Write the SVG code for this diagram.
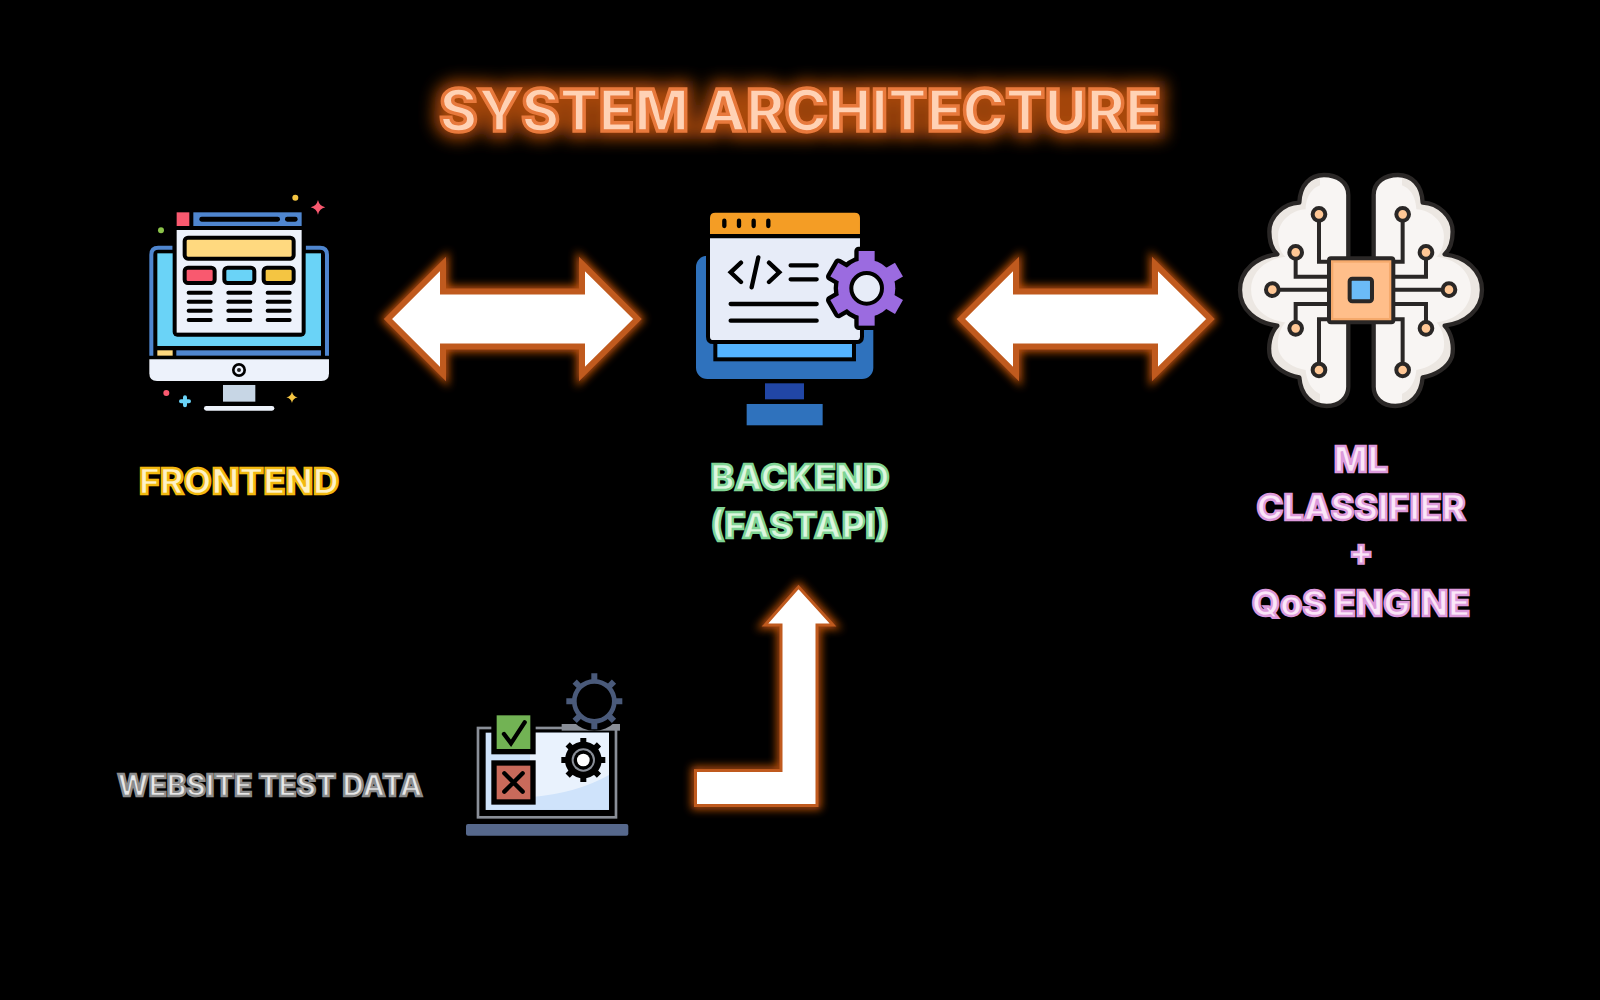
<svg xmlns="http://www.w3.org/2000/svg" width="1600" height="1000" viewBox="0 0 1600 1000">
<defs>
<filter id="glow" x="-20%" y="-60%" width="140%" height="220%"><feGaussianBlur stdDeviation="8"/></filter>
<filter id="aglow" x="-20%" y="-20%" width="140%" height="140%"><feGaussianBlur stdDeviation="4"/></filter>
<path id="dbl" d="M388,319 L443,264 L443,291.500 L582,291.500 L582,264 L637.500,319 L582,374 L582,346.500 L443,346.500 L443,374 Z"/>
<path id="lshape" d="M798.500,587 L833,625 L817,625 L817,805.500 L695.500,805.500 L695.500,770.500 L781,770.500 L781,625 L765,625 Z"/>
<path id="lobe" d="M385,105 C385,65 350,45 312,45 C270,45 240,75 238,128 C190,130 148,170 148,215 C148,245 156,268 172,283 C110,290 60,330 60,390 C60,450 110,490 172,497 C150,520 143,560 150,590 C163,625 200,645 238,652 C242,705 275,738 320,738 C360,738 385,712 385,680 Z"/>
<clipPath id="lobeclip"><use href="#lobe"/></clipPath>
<g id="lobeg">
<use href="#lobe" fill="#ECE7E2"/>
<g clip-path="url(#lobeclip)"><use href="#lobe" fill="#F8F5F3" transform="translate(38,30) scale(.92)"/><rect x="300" y="40" width="90" height="700" fill="#F8F5F3"/></g>
<use href="#lobe" fill="none" stroke="#2A2726" stroke-width="13" stroke-linejoin="round"/>
</g>
<g id="cog"><circle cx="560" cy="295" r="86"/><rect x="536" y="183" width="48" height="224"/><rect x="536" y="183" width="48" height="224" transform="rotate(60 560 295)"/><rect x="536" y="183" width="48" height="224" transform="rotate(120 560 295)"/></g>
</defs>
<style>
text{font-family:Inter,"Liberation Sans",sans-serif;font-weight:800;text-anchor:middle}
.title{font-size:58px;fill:#FFD2B5;stroke:#E8793C;stroke-width:3.500px}
.lab{font-size:36px;stroke-width:2.400px}
.fe{fill:#FFF3C6;stroke:#F2B90F}
.be{fill:#DDF7E0;stroke:#7FD494}
.ml{fill:#FBE6F8;stroke:#DD9ADC}
.wt{font-size:29.500px;fill:#E8E8E8;stroke:#8C8C8C;stroke-width:2.400px}
.arrow{fill:#fff;stroke:#C05A1E;stroke-linejoin:miter}
.g{fill:none;stroke:#E0600F;stroke-linejoin:miter;opacity:.85}
.k{stroke:#000;stroke-linecap:round;fill:none}
.bk{stroke:#2A2726;fill:none;stroke-width:12}
</style>
<rect width="1600" height="1000" fill="#000"/>

<g id="title">
<text class="title" x="800" y="131" filter="url(#glow)" style="stroke:#D25A10;stroke-width:15px;fill:#D25A10;opacity:.8">SYSTEM ARCHITECTURE</text>
<text class="title" x="800" y="131">SYSTEM ARCHITECTURE</text>
</g>

<g id="connectors">
<use href="#dbl" class="g" stroke-width="11" filter="url(#aglow)"/>
<use href="#dbl" class="arrow" stroke-width="6"/>
<g transform="translate(573,0)">
<use href="#dbl" class="g" stroke-width="11" filter="url(#aglow)"/>
<use href="#dbl" class="arrow" stroke-width="6"/>
</g>
<use href="#lshape" class="g" stroke-width="8" filter="url(#aglow)"/>
<use href="#lshape" class="arrow" stroke-width="3"/>
</g>

<g id="frontend">
<g transform="translate(130,180) scale(.3333)">
<path d="M128,203 H85 Q64,203 64,224 V527 M527,203 H570 Q591,203 591,224 V527" fill="none" stroke="#4F86CF" stroke-width="12"/>
<rect x="82" y="220" width="491" height="278" fill="#6AD3F7"/>
<rect x="82" y="511" width="46" height="16" fill="#FFD97F"/>
<rect x="139" y="511" width="434" height="16" fill="#4F86CF"/>
<path d="M58,538 H597 V580 Q597,603 574,603 H81 Q58,603 58,580 Z" fill="#EDF2FB"/>
<circle cx="327" cy="570" r="21" fill="#000"/><circle cx="327" cy="570" r="13" fill="#EDF2FB"/><circle cx="327" cy="570" r="6" fill="#222"/>
<rect x="279" y="615" width="97" height="50" fill="#C7D6E5"/>
<rect x="222" y="678" width="211" height="14" rx="7" fill="#EDF2FB"/>
<rect x="128" y="140" width="399" height="330" rx="14" fill="#000"/>
<rect x="140" y="150" width="375" height="308" fill="#EDF2FB"/>
<rect x="140" y="97" width="38" height="41" fill="#F9596F"/>
<rect x="190" y="97" width="325" height="41" fill="#4F86CF"/>
<rect x="208" y="110" width="242" height="15" rx="7" fill="#000"/>
<rect x="465" y="110" width="38" height="15" rx="7" fill="#000"/>
<rect x="164" y="173" width="327" height="63" rx="10" fill="#FFD97F" stroke="#000" stroke-width="12"/>
<rect x="164" y="263" width="90" height="46" rx="10" fill="#F9596F" stroke="#000" stroke-width="12"/>
<rect x="283" y="263" width="90" height="46" rx="10" fill="#6AD3F7" stroke="#000" stroke-width="12"/>
<rect x="401" y="263" width="90" height="46" rx="10" fill="#F4C542" stroke="#000" stroke-width="12"/>
<path class="k" stroke-width="12" d="M176,338H242M295,338H361M413,338H479M176,365H242M295,365H361M413,365H479M176,392H242M295,392H361M413,392H479M176,420H242M295,420H361M413,420H479"/>
<circle cx="496" cy="53" r="9" fill="#F4C542"/>
<path d="M564,60 Q568,78 586,82 Q568,86 564,104 Q560,86 542,82 Q560,78 564,60Z" fill="#F9596F"/>
<circle cx="93" cy="151" r="9" fill="#8BC34A"/>
<circle cx="109" cy="639" r="9" fill="#F9596F"/>
<path d="M165,652V676M153,664H177" stroke="#6AD3F7" stroke-width="12" stroke-linecap="round" fill="none"/>
<path d="M486,635 Q489,649 503,652 Q489,655 486,669 Q483,655 469,652 Q483,649 486,635Z" fill="#F4C542"/>
</g>
<text class="lab fe" x="239" y="494">FRONTEND</text>
</g>

<g id="backend">
<g transform="translate(680,190) scale(.3333)">
<rect x="48" y="197" width="532" height="370" rx="34" fill="#2F72BD"/>
<rect x="255" y="580" width="117" height="48" fill="#2146A5"/>
<rect x="200" y="642" width="228" height="64" fill="#2F72BD"/>
<rect x="106" y="440" width="416" height="68" fill="#54B4FF" stroke="#000" stroke-width="12"/>
<path d="M84,139 H546 V440 Q546,456 530,456 H100 Q84,456 84,440 Z" fill="#E7ECF8" stroke="#000" stroke-width="12"/>
<path d="M90,132 V84 Q90,68 106,68 H524 Q540,68 540,84 V132 Z" fill="#F49D25"/>
<path class="k" stroke-width="13" d="M133,92V108M177,92V108M221,92V108M265,92V108"/>
<path class="k" stroke-width="13" d="M183,218L152,247L183,276M267,218L298,247L267,276M235,202L215,292M332,226H410M332,268H410M152,342H410M152,392H410"/>
<use href="#cog" fill="#000" stroke="#000" stroke-width="26" stroke-linejoin="round"/>
<use href="#cog" fill="#9B6BE0"/>
<circle cx="560" cy="295" r="46" fill="#E7ECF8" stroke="#000" stroke-width="12"/>
</g>
<text class="lab be" x="800" y="490">BACKEND</text>
<text class="lab be" x="800" y="538">(FASTAPI)</text>
</g>

<g id="ml">
<g transform="translate(1220,160) scale(.3333)">
<use href="#lobeg"/>
<use href="#lobeg" transform="translate(846,0) scale(-1,1)"/>
<path class="bk" d="M297,163V305H327M227,277V350H327M157,389H327M227,505V432H327M297,630V478H327M548,163V305H520M618,277V350H520M687,389H520M618,505V432H520M548,630V478H520"/>
<rect x="327" y="295" width="193" height="192" rx="6" fill="#F5A96B" stroke="#2A2726" stroke-width="12"/>
<rect x="340" y="308" width="167" height="166" fill="#FFBE8A"/>
<rect x="389" y="356" width="67" height="68" rx="8" fill="#6BBBF7" stroke="#2A2726" stroke-width="12"/>
<g fill="#FFC795" stroke="#2A2726" stroke-width="12">
<circle cx="297" cy="163" r="19"/><circle cx="227" cy="277" r="19"/><circle cx="157" cy="389" r="19"/><circle cx="227" cy="505" r="19"/><circle cx="297" cy="630" r="19"/>
<circle cx="548" cy="163" r="19"/><circle cx="618" cy="277" r="19"/><circle cx="687" cy="389" r="19"/><circle cx="618" cy="505" r="19"/><circle cx="548" cy="630" r="19"/>
</g>
</g>
<text class="lab ml" x="1361" y="472">ML</text>
<text class="lab ml" x="1361" y="520">CLASSIFIER</text>
<text class="lab ml" x="1361" y="565">+</text>
<text class="lab ml" x="1361" y="616">QoS ENGINE</text>
</g>

<g id="test-data">
<g transform="translate(450,660) scale(.3333)">
<rect x="48" y="492" width="487" height="35" rx="6" fill="#56688C"/>
<rect x="84" y="204" width="414" height="268" fill="#000" stroke="#8A8F98" stroke-width="8"/>
<rect x="107" y="218" width="370" height="232" fill="#CFE3FB"/>
<path d="M240,218 H477 V345 Q380,400 240,412 Z" fill="#E9F2FD"/>
<rect x="335" y="192" width="175" height="20" fill="#8A8F98"/>
<circle cx="433" cy="124" r="88" fill="#000"/>
<circle cx="433" cy="124" r="60" fill="#000" stroke="#4A5A7A" stroke-width="14"/>
<path stroke="#4A5A7A" stroke-width="18" d="M433,40V64M433,184V208M349,124H373M493,124H517M374,65L390,81M476,167L492,183M492,65L476,81M390,167L374,183"/>
<circle cx="400" cy="300" r="55" fill="#000"/>
<path stroke="#000" stroke-width="18" d="M400,234V366M334,300H466M353,253L447,347M447,253L353,347"/>
<circle cx="400" cy="300" r="35" fill="#8A8F98"/><circle cx="400" cy="300" r="29" fill="#000"/><circle cx="400" cy="300" r="19" fill="#fff"/>
<rect x="132" y="158" width="117" height="117" fill="#72B354" stroke="#000" stroke-width="16"/>
<rect x="132" y="309" width="117" height="117" fill="#C96A5B" stroke="#000" stroke-width="16"/>
<path class="k" stroke-width="13" d="M162,222L183,250L224,187M163,340L218,395M218,340L163,395"/>
</g>
<text class="wt" x="270" y="796">WEBSITE TEST DATA</text>
</g>
</svg>
